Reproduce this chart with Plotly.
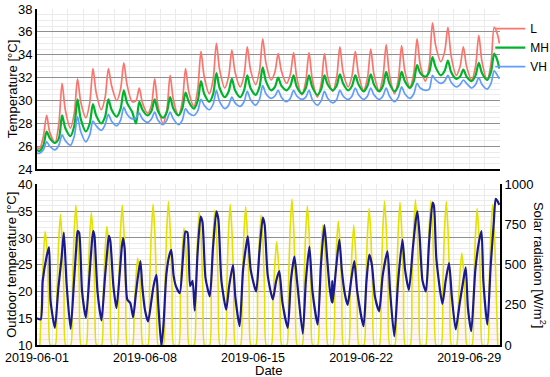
import pandas as pd
import plotly.graph_objects as go

# ---------------- data ----------------
start = pd.Timestamp("2019-06-01")
end = pd.Timestamp("2019-07-01")

# indoor temperatures, sampled at these hours of each day (04h, 10h, 15h, 20h)
temp_hours = [4, 10, 15, 20]
L_daily = [
    [25.8, 26.9, 28.7, 27.2], [26.3, 28.0, 31.5, 29.2], [27.6, 28.9, 31.9, 29.9],
    [28.5, 29.8, 32.8, 30.7], [29.2, 30.3, 32.8, 31.3], [30.0, 31.0, 33.3, 31.4],
    [29.9, 30.0, 31.1, 29.8], [28.9, 29.6, 31.9, 29.6], [28.0, 29.2, 32.2, 30.1],
    [28.7, 29.9, 32.8, 30.8], [29.5, 31.0, 34.3, 32.1], [30.6, 31.9, 35.0, 32.7],
    [31.1, 32.1, 34.4, 32.5], [31.2, 32.2, 34.7, 32.7], [31.4, 32.6, 35.4, 33.3],
    [31.8, 32.5, 34.1, 32.6], [31.5, 32.3, 34.2, 32.0], [30.5, 31.7, 34.2, 31.9],
    [30.3, 31.5, 34.1, 32.1], [30.8, 32.0, 34.7, 32.5], [31.2, 32.2, 34.3, 32.3],
    [30.9, 32.0, 34.5, 32.3], [30.9, 32.1, 34.9, 32.3], [30.6, 31.9, 34.8, 32.6],
    [31.2, 32.4, 35.4, 33.1], [31.7, 33.1, 36.8, 34.8], [33.4, 34.3, 36.4, 33.9],
    [32.2, 33.0, 34.7, 33.0], [31.8, 33.0, 35.7, 33.4], [31.8, 33.2, 36.4, 35.8],
]
L_first, L_last = 25.9, 35.0

MH_daily = [
    [25.6, 26.1, 27.3, 26.7], [26.3, 26.7, 28.7, 27.6], [26.9, 27.8, 30.1, 28.4],
    [27.3, 28.0, 29.7, 28.7], [28.0, 28.6, 30.1, 29.2], [28.6, 29.3, 30.9, 29.8],
    [29.0, 28.0, 29.9, 29.2], [28.7, 29.1, 30.1, 29.1], [28.5, 29.0, 30.3, 29.3],
    [28.7, 29.3, 30.7, 29.9], [29.3, 30.0, 31.7, 30.6], [29.9, 30.6, 32.4, 31.1],
    [30.3, 30.8, 31.9, 30.9], [30.3, 30.9, 32.2, 31.1], [30.5, 31.2, 32.9, 31.7],
    [30.9, 31.2, 32.0, 31.3], [30.9, 31.3, 32.2, 31.2], [30.6, 31.1, 32.2, 31.2],
    [30.5, 31.0, 32.2, 31.4], [30.9, 31.3, 32.3, 31.5], [30.9, 31.3, 32.2, 31.4],
    [30.8, 31.3, 32.3, 31.4], [30.8, 31.3, 32.5, 31.5], [30.8, 31.3, 32.5, 31.7],
    [31.1, 31.7, 33.1, 32.4], [32.1, 32.5, 33.8, 32.9], [32.2, 32.6, 33.5, 32.5],
    [31.9, 32.1, 32.7, 32.1], [31.7, 32.2, 33.3, 32.4], [31.8, 32.5, 34.1, 33.5],
]
MH_first, MH_last = 25.7, 32.8

VH_daily = [
    [25.4, 25.7, 26.4, 26.0], [25.7, 26.1, 27.0, 26.5], [26.1, 26.9, 28.6, 27.3],
    [26.4, 27.0, 28.2, 27.8], [27.4, 27.9, 28.8, 28.2], [27.8, 28.3, 29.4, 28.8],
    [28.4, 28.5, 28.9, 28.4], [28.1, 28.4, 29.0, 28.3], [27.9, 28.3, 29.0, 28.4],
    [27.9, 28.3, 29.3, 28.9], [28.7, 29.1, 30.1, 29.6], [29.2, 29.7, 30.9, 29.9],
    [29.3, 29.6, 30.3, 29.8], [29.5, 29.9, 30.8, 30.1], [29.6, 30.1, 31.3, 30.6],
    [30.2, 30.4, 30.9, 30.3], [29.9, 30.2, 30.9, 30.4], [30.1, 30.3, 30.9, 30.1],
    [29.6, 30.0, 30.8, 30.2], [29.8, 30.1, 30.9, 30.4], [30.1, 30.4, 31.1, 30.5],
    [30.1, 30.4, 31.1, 30.5], [30.1, 30.4, 31.1, 30.4], [29.9, 30.3, 31.2, 30.6],
    [30.2, 30.6, 31.5, 31.1], [30.9, 31.0, 32.2, 31.8], [31.5, 31.7, 32.2, 31.6],
    [31.2, 31.4, 31.8, 31.5], [31.1, 31.4, 32.0, 31.4], [31.0, 31.5, 32.6, 32.2],
]
VH_first, VH_last = 25.4, 31.9

# outdoor temperature: time in days since 2019-06-01 00:00, value in °C
out_t = [
    0.00, 0.24, 0.37, 0.62, 0.78, 0.88,
    1.16, 1.38, 1.59, 1.74, 1.92,
    2.18, 2.40, 2.55, 2.63, 2.73, 2.92,
    3.17, 3.40, 3.55, 3.64, 3.72, 3.92,
    4.18, 4.40, 4.58, 4.66, 4.75, 4.95,
    5.15, 5.35, 5.50, 5.58, 5.68, 5.85, 6.05,
    6.23, 6.40, 6.55, 6.70, 6.82, 7.00,
    7.20, 7.40, 7.55, 7.74, 7.85,
    8.06, 8.20, 8.38, 8.55, 8.70, 8.85, 9.00,
    9.25, 9.45, 9.62, 9.75, 9.92, 10.08,
    10.22, 10.40, 10.60, 10.72, 10.92,
    11.20, 11.40, 11.62, 11.75, 11.95,
    12.26, 12.45, 12.70, 12.85,
    13.13, 13.35, 13.55, 13.66, 13.85,
    14.20, 14.40, 14.63, 14.75, 14.95,
    15.28, 15.50, 15.70, 15.90,
    16.25, 16.45, 16.68, 16.85,
    17.22, 17.42, 17.65, 17.85,
    18.19, 18.40, 18.62, 18.78, 18.95,
    19.10, 19.13, 19.16, 19.40, 19.59, 19.75, 19.95,
    20.13, 20.35, 20.56, 20.75,
    21.16, 21.35, 21.53, 21.70, 21.90,
    22.17, 22.40, 22.71, 22.88,
    23.15, 23.40, 23.68, 23.85,
    24.10, 24.35, 24.55, 24.65, 24.80, 24.98,
    25.20, 25.40, 25.63, 25.72, 25.88,
    26.27, 26.48, 26.70, 26.88,
    27.13, 27.40, 27.62, 27.78, 27.92,
    28.14, 28.40, 28.65, 28.80, 28.92,
    29.18, 29.40, 29.60, 29.72, 29.82, 29.95,
]
out_v = [
    15.0, 14.8, 22.0, 26.5, 28.3, 18.2,
    13.2, 20.6, 26.2, 31.0, 21.3,
    13.0, 22.0, 28.5, 31.3, 31.0, 20.0,
    15.1, 23.0, 29.0, 31.3, 30.5, 20.0,
    14.6, 22.5, 28.5, 30.4, 29.5, 21.0,
    16.9, 23.0, 28.5, 30.0, 28.0, 18.5, 17.8,
    15.2, 19.4, 23.0, 25.7, 21.0, 16.5,
    14.4, 18.0, 21.0, 23.1, 18.0,
    9.7, 14.0, 23.1, 26.5, 27.8, 23.0, 21.0,
    19.7, 26.0, 31.2, 31.0, 21.0, 22.0,
    16.4, 27.0, 34.0, 33.0, 22.5,
    19.1, 28.0, 35.0, 33.5, 22.0,
    16.6, 21.0, 25.0, 19.0,
    13.5, 24.0, 28.5, 30.3, 24.0,
    20.0, 27.0, 33.8, 32.5, 23.0,
    18.5, 22.0, 23.8, 18.0,
    13.2, 22.0, 26.5, 22.0,
    12.1, 22.0, 28.4, 20.0,
    13.8, 25.0, 32.4, 27.0, 21.0,
    18.0, 22.0, 17.9, 25.0, 29.7, 24.0, 19.5,
    17.5, 22.0, 25.7, 20.0,
    13.5, 22.0, 26.9, 25.0, 19.0,
    16.3, 23.0, 27.5, 20.0,
    11.6, 22.0, 29.7, 24.0,
    20.3, 28.0, 33.5, 35.0, 30.0, 22.0,
    20.0, 29.0, 36.6, 36.0, 26.0,
    17.7, 22.0, 25.3, 19.0,
    12.9, 18.0, 22.0, 24.5, 17.0,
    12.6, 24.0, 29.5, 31.3, 22.0,
    13.8, 25.0, 33.0, 37.3, 37.0, 36.2,
]

# solar radiation (W/m2) at these hours of each day
solar_hours = [4.5, 7, 9.5, 12.5, 15.5, 18, 20.5]
solar_07 = [250, 320, 350, 330, 300, 350, 200, 350, 360, 300,
            330, 340, 350, 345, 320, 260, 360, 350, 300, 310,
            300, 340, 360, 355, 360, 360, 355, 230, 340, 350]
solar_09 = [520, 630, 680, 640, 560, 680, 400, 680, 700, 560,
            650, 650, 680, 670, 630, 480, 710, 680, 580, 600,
            560, 660, 700, 690, 700, 700, 700, 430, 660, 680]
solar_peak = [707, 815, 872, 827, 738, 872, 541, 877, 893, 728,
              835, 840, 877, 862, 810, 645, 910, 868, 748, 773,
              748, 852, 897, 889, 904, 897, 893, 573, 852, 877]
solar_15 = [600, 620, 670, 650, 620, 680, 450, 680, 690, 600,
            650, 660, 680, 670, 640, 520, 700, 670, 620, 620,
            580, 660, 700, 690, 700, 700, 690, 460, 660, 690]
solar_18 = [300, 310, 340, 320, 330, 340, 220, 340, 350, 320,
            330, 330, 340, 340, 320, 280, 350, 340, 320, 320,
            300, 330, 350, 350, 350, 350, 350, 240, 330, 350]

# ---------------- build series ----------------
def indoor(daily, first, last):
    t, v = [start], [first]
    for d, vals in enumerate(daily):
        for h, val in zip(temp_hours, vals):
            t.append(start + pd.Timedelta(days=d, hours=h))
            v.append(val)
    t.append(start + pd.Timedelta(days=len(daily) - 1, hours=23))
    v.append(last)
    return t, v

Lx, Ly = indoor(L_daily, L_first, L_last)
Mx, My = indoor(MH_daily, MH_first, MH_last)
Vx, Vy = indoor(VH_daily, VH_first, VH_last)

out_x = [start + pd.Timedelta(days=t) for t in out_t]

sol_x, sol_y = [], []
for d in range(len(solar_peak)):
    vals = [0, solar_07[d], solar_09[d], solar_peak[d], solar_15[d], solar_18[d], 0]
    for h, val in zip(solar_hours, vals):
        sol_x.append(start + pd.Timedelta(days=d, hours=h))
        sol_y.append(val)

# ---------------- figure ----------------
fig = go.Figure()
fig.add_trace(go.Scatter(x=Lx, y=Ly, name="L", mode="lines", line=dict(color="#F8766D", width=1.7, shape="spline", smoothing=0.8), xaxis="x", yaxis="y"))
fig.add_trace(go.Scatter(x=Mx, y=My, name="MH", mode="lines", line=dict(color="#00B32D", width=2.2, shape="spline", smoothing=0.8), xaxis="x", yaxis="y"))
fig.add_trace(go.Scatter(x=Vx, y=Vy, name="VH", mode="lines", line=dict(color="#619CFF", width=1.7, shape="spline", smoothing=0.8), xaxis="x", yaxis="y"))

fig.add_trace(go.Scatter(x=sol_x, y=sol_y, name="Solar radiation", mode="lines", showlegend=False,
                         line=dict(color="#E2E200", width=1.6, shape="spline", smoothing=0.5),
                         fill="tozeroy", fillcolor="rgba(255,190,200,0.15)",
                         xaxis="x2", yaxis="y2"))
fig.add_trace(go.Scatter(x=out_x, y=out_v, name="Outdoor temperature", mode="lines", showlegend=False,
                         line=dict(color="#1A1A8C", width=2.2, shape="spline", smoothing=0.6),
                         xaxis="x2", yaxis="y3"))

FONT = "Liberation Sans, Arial, sans-serif"
light = "#ebebeb"
dark = "#8f8f8f"
DAY = 86400000

xcommon = dict(range=[start, end], showgrid=True, gridcolor=light, gridwidth=1,
               minor=dict(dtick=DAY, showgrid=True, gridcolor=light, gridwidth=1, ticks=""),
               showline=True, linecolor="black", linewidth=2, zeroline=False,
               tick0=start, dtick=7 * DAY, tickformat="%Y-%m-%d", ticks="",
               tickfont=dict(size=12.5))

top_dom = [0.523, 1.0]
bot_dom = [0.0, 0.4777]
TITLE_X = -0.054  # left axis titles, paper units

fig.update_layout(
    width=550, height=377,
    margin=dict(l=37, r=50, t=9, b=32, autoexpand=False),
    paper_bgcolor="white", plot_bgcolor="white",
    font=dict(family=FONT, size=13, color="black"),
    showlegend=True,
    legend=dict(x=0.979, xanchor="left", y=0.985, yanchor="top", bgcolor="rgba(0,0,0,0)",
                font=dict(size=12), tracegroupgap=0),
    xaxis=dict(**xcommon, anchor="y", showticklabels=False),
    yaxis=dict(domain=top_dom, anchor="x", range=[24, 38], dtick=2, showgrid=True, gridcolor=dark, gridwidth=1,
               minor=dict(dtick=0.5, showgrid=True, gridcolor=light, gridwidth=1),
               showline=True, linecolor="black", linewidth=2, zeroline=False, ticks=""),
    xaxis2=dict(**xcommon, anchor="y2"),
    yaxis2=dict(domain=bot_dom, anchor="x2", side="right", range=[0, 1000], dtick=250, showgrid=False,
                showline=True, linecolor="black", linewidth=2, zeroline=False, ticks=""),
    yaxis3=dict(domain=bot_dom, anchor="x2", overlaying="y2", side="left", range=[10, 40], dtick=5,
                showgrid=True, gridcolor=dark, gridwidth=1,
                minor=dict(dtick=1, showgrid=True, gridcolor=light, gridwidth=1),
                showline=True, linecolor="black", linewidth=2, zeroline=False, ticks=""),
    annotations=[
        dict(text="Temperature [°C]", textangle=-90, x=TITLE_X, xanchor="center",
             y=(top_dom[0] + top_dom[1]) / 2, yanchor="middle",
             xref="paper", yref="paper", showarrow=False, font=dict(size=13)),
        dict(text="Outdoor temperature [°C]", textangle=-90, x=TITLE_X, xanchor="center",
             y=(bot_dom[0] + bot_dom[1]) / 2, yanchor="middle",
             xref="paper", yref="paper", showarrow=False, font=dict(size=13)),
        dict(text="Solar radiation [W/m<sup>2</sup>]", textangle=90, x=1.086, xanchor="center",
             y=(bot_dom[0] + bot_dom[1]) / 2, yanchor="middle",
             xref="paper", yref="paper", showarrow=False, font=dict(size=13)),
        dict(text="Date", x=0.5, xanchor="center", y=-0.075, yanchor="middle",
             xref="paper", yref="paper", showarrow=False, font=dict(size=13)),
    ],
)

# the page's default 8px body margin would shift the 550x377 figure; remove it
fig.write_html("out.html", config={"displayModeBar": False},
               post_script="document.body.style.margin='0px';")
